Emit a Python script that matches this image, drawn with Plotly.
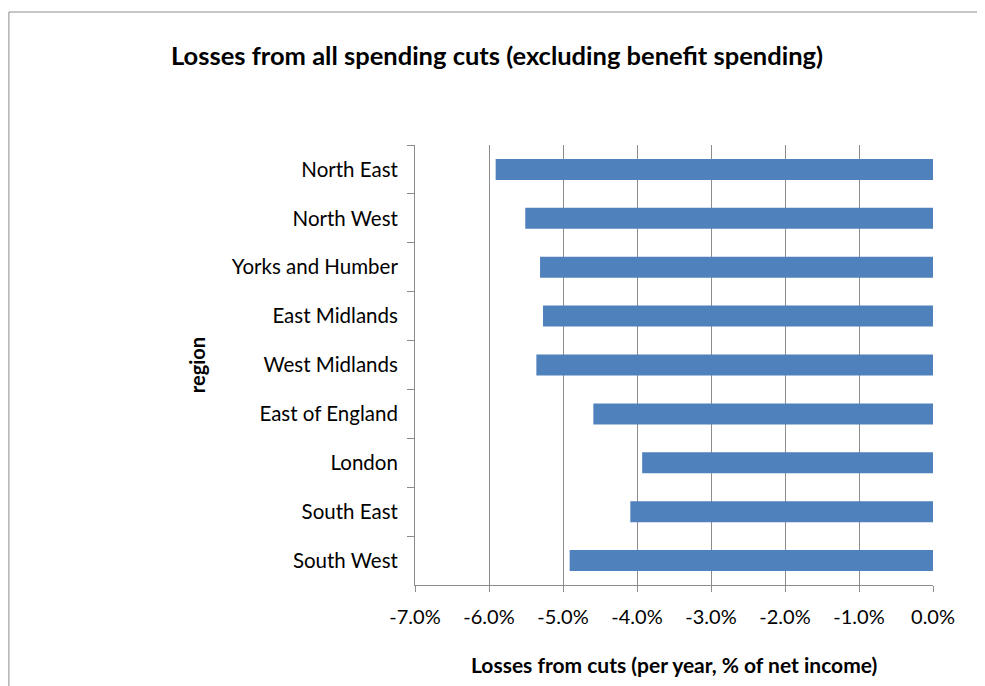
import plotly.graph_objects as go

regions = ["North East", "North West", "Yorks and Humber", "East Midlands",
           "West Midlands", "East of England", "London", "South East", "South West"]
losses = [-0.0591, -0.0551, -0.0531, -0.0527, -0.0536, -0.0459, -0.0393, -0.0409, -0.0491]
tick_vals = [-0.07, -0.06, -0.05, -0.04, -0.03, -0.02, -0.01, 0.0]
tick_text = ["-7.0%", "-6.0%", "-5.0%", "-4.0%", "-3.0%", "-2.0%", "-1.0%", "0.0%"]

OFF = 8  # page body margin
W, H = 985, 686
L, T = 415 - OFF, 145 - OFF
R = W - (933.5 - OFF)
B = H - (585 - OFF)
pw, ph = W - L - R, H - T - B

def px(x):
    return (x - OFF - L) / pw

def py(y):
    return (H - B - (y - OFF)) / ph

font = "Lato, 'Open Sans', sans-serif"

fig = go.Figure(go.Bar(
    x=losses, y=regions, orientation="h",
    marker=dict(color="#4F81BD", line=dict(width=0)),
))

fig.update_layout(
    width=W, height=H,
    margin=dict(l=L, r=R, t=T, b=B, autoexpand=False),
    paper_bgcolor="white", plot_bgcolor="white",
    bargap=0.57,
    showlegend=False,
    font=dict(family=font, size=20, color="black"),
    xaxis=dict(range=[-0.07, 0], tickvals=tick_vals, ticktext=tick_text,
               showgrid=True, gridcolor="#8c8c8c", gridwidth=1,
               showline=True, linecolor="#8c8c8c", linewidth=1,
               ticks="outside", ticklen=6, tickcolor="#8c8c8c",
               zeroline=False, fixedrange=True, automargin=False,
               ticklabelstandoff=8,
               tickfont=dict(size=20)),
    yaxis=dict(categoryorder="array", categoryarray=regions, autorange="reversed",
               showline=True, linecolor="#8c8c8c", linewidth=1,
               ticks="outside", ticklen=7, tickcolor="#8c8c8c", tickson="boundaries",
               showgrid=False, automargin=False, ticklabelstandoff=12,
               tickfont=dict(size=20.5)),
    shapes=[dict(type="rect", xref="paper", yref="paper",
                 x0=px(OFF + 0.5), x1=px(1000), y0=py(720), y1=py(12),
                 line=dict(color="#8c8c8c", width=1), layer="below")],
    annotations=[
        dict(text="<b>Losses from all spending cuts (excluding benefit spending)</b>",
             xref="paper", yref="paper", x=px(497), y=py(55), showarrow=False,
             xanchor="center", yanchor="middle", font=dict(size=25.5)),
        dict(text="<b>Losses from cuts (per year, % of net income)</b>",
             xref="paper", yref="paper", x=px(674), y=py(664), showarrow=False,
             xanchor="center", yanchor="middle", font=dict(size=21)),
        dict(text="<b>region</b>", textangle=-90,
             xref="paper", yref="paper", x=px(197), y=py(365), showarrow=False,
             xanchor="center", yanchor="middle", font=dict(size=20)),
    ],
)

fig.write_html("out.html")
